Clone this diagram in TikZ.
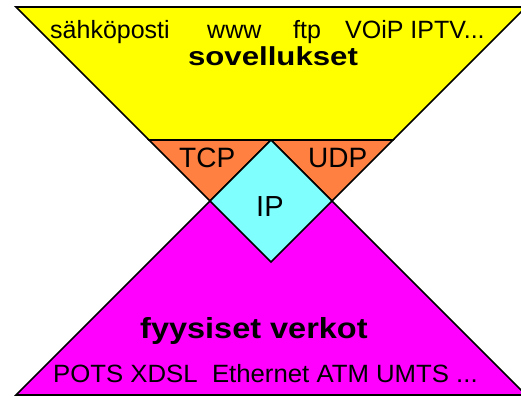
\documentclass[tikz,border=0pt]{standalone}
\usepackage{fontspec}
\setmainfont{Liberation Sans}
\definecolor{appyellow}{HTML}{FFFF00}
\definecolor{tporange}{HTML}{FF8040}
\definecolor{ipcyan}{HTML}{80FFFF}
\definecolor{netmagenta}{HTML}{FF00FF}
\tikzset{
  layer/.style={draw=black, line width=1.6pt, line join=miter},
  lbl/.style={inner sep=0pt, anchor=base west, text=black},
}
\begin{document}
\begin{tikzpicture}[x=1pt, y=-1pt]
  \useasboundingbox (0,0) rectangle (521,396);
  \clip (0,0) rectangle (521,396);
  % transport layer: lower part of the upper funnel
  \filldraw[layer, fill=tporange] (149,140) -- (393,140) -- (271,262) -- cycle;
  % physical networks: lower triangle
  \filldraw[layer, fill=netmagenta] (271,140) -- (526,395) -- (16,395) -- cycle;
  % IP: the narrow waist
  \filldraw[layer, fill=ipcyan] (271,140) -- (332,201) -- (271,262) -- (210,201) -- cycle;
  % applications: upper part of the funnel
  \filldraw[layer, fill=appyellow] (16,7) -- (526,7) -- (393,140) -- (149,140) -- cycle;

  % application examples
  \node[lbl, font=\fontsize{25}{28}\selectfont] (mail) at (50,39) {\scalebox{1.0}[1]{sähköposti}};
  \node[lbl, font=\fontsize{25}{28}\selectfont] (web) at (207,39) {www};
  \node[lbl, font=\fontsize{25}{28}\selectfont] (ftp) at (293,39) {ftp};
  \node[lbl, font=\fontsize{25}{28}\selectfont] (voip) at (345,39) {VOiP IPTV...};
  \node[lbl, anchor=base, font=\bfseries\fontsize{26}{30}\selectfont] (apps) at (273,65) {\scalebox{1.2}[1]{sovellukset}};

  % transport and network protocols
  \node[lbl, font=\fontsize{28}{32}\selectfont] (tcp) at (179,167) {TCP};
  \node[lbl, font=\fontsize{28}{32}\selectfont] (udp) at (308,167) {UDP};
  \node[lbl, font=\fontsize{29}{32}\selectfont] (ip) at (256,216) {IP};

  % physical networks
  \node[lbl, font=\bfseries\fontsize{29}{32}\selectfont] (phys) at (140,338) {\scalebox{1.12}[1]{fyysiset verkot}};
  \node[lbl, font=\fontsize{25}{28}\selectfont] (nets) at (53,382) {\scalebox{1.03}[1]{POTS XDSL\ \ Ethernet ATM UMTS ...}};
\end{tikzpicture}
\end{document}
